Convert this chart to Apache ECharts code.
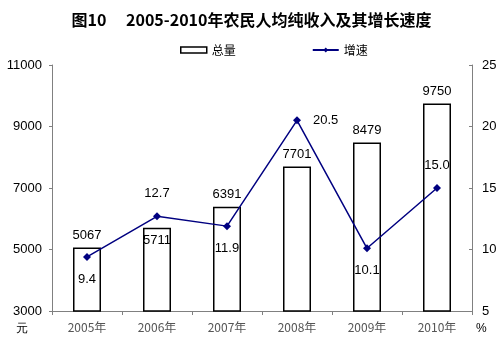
<!DOCTYPE html>
<html>
<head>
<meta charset="utf-8">
<script src="https://cdn.jsdelivr.net/npm/echarts@6/dist/echarts.min.js"></script>
<style>
  html, body { margin: 0; padding: 0; background: #fff; }
  #chart { width: 503px; height: 347px; }
</style>
</head>
<body>
<div id="chart"></div>
<script>
// 2005-2010 年农民人均纯收入（元）及增长速度（%）
const years = ['2005年', '2006年', '2007年', '2008年', '2009年', '2010年'];
const income = [5067, 5711, 6391, 7701, 8479, 9750];
const growth = [9.4, 12.7, 11.9, 20.5, 10.1, 15.0];
const incomeLabelPos = ['top', 'insideTop', 'top', 'top', 'top', 'top'];
const growthLabelPos = ['bottom', 'top', 'bottom', 'right', 'bottom', 'top'];

const labelFont = { color: '#000', fontSize: 13, fontFamily: 'Liberation Sans, Arial, sans-serif' };

const chart = echarts.init(document.getElementById('chart'), null, { renderer: 'canvas' });

chart.setOption({
  animation: false,
  backgroundColor: '#fff',
  title: {
    text: '图10　 2005-2010年农民人均纯收入及其增长速度',
    left: 'center',
    top: 7,
    textStyle: {
      fontFamily: 'Noto Sans CJK SC, sans-serif',
      fontSize: 16,
      fontWeight: 'bold',
      color: '#000'
    }
  },
  legend: {
    top: 39,
    left: 175,
    itemGap: 76,
    itemWidth: 26,
    itemHeight: 6,
    textStyle: { fontSize: 12, color: '#000', fontFamily: 'Noto Sans CJK SC, sans-serif' },
    data: [
      { name: '总量', icon: 'rect', itemStyle: { color: '#fff', borderColor: '#000', borderWidth: 1.5 } },
      { name: '增速' }
    ]
  },
  grid: { left: 52, right: 31, top: 65, bottom: 36 },
  xAxis: {
    type: 'category',
    data: years,
    axisLine: { lineStyle: { color: '#808080', width: 1 } },
    axisTick: { show: true, length: 4, lineStyle: { color: '#808080' } },
    axisLabel: { color: '#555', fontSize: 12, margin: 10, fontFamily: 'Noto Sans CJK SC, sans-serif' }
  },
  yAxis: [
    {
      type: 'value',
      min: 3000,
      max: 11000,
      interval: 2000,
      name: '元',
      nameLocation: 'start',
      nameGap: 12,
      nameTextStyle: { color: '#000', fontSize: 12, align: 'right', padding: [0, 24, 0, 0], verticalAlign: 'top' },
      axisLine: { show: true, lineStyle: { color: '#808080' } },
      axisTick: { show: true, length: 3, lineStyle: { color: '#808080' } },
      axisLabel: {
        color: '#000', fontSize: 13, margin: 10,
        fontFamily: 'Liberation Sans, Arial, sans-serif',
        formatter: v => String(v)
      },
      splitLine: { show: false }
    },
    {
      type: 'value',
      min: 5,
      max: 25,
      interval: 5,
      name: '%',
      nameLocation: 'start',
      nameGap: 12,
      nameTextStyle: { color: '#000', fontSize: 12, align: 'left', padding: [0, 0, 0, 4], verticalAlign: 'top' },
      axisLine: { show: true, lineStyle: { color: '#808080' } },
      axisTick: { show: true, inside: true, length: 3, lineStyle: { color: '#808080' } },
      axisLabel: { color: '#000', fontSize: 13, margin: 10, fontFamily: 'Liberation Sans, Arial, sans-serif' },
      splitLine: { show: false }
    }
  ],
  series: [
    {
      name: '总量',
      type: 'bar',
      yAxisIndex: 0,
      barWidth: '40%',
      itemStyle: { color: '#fff', borderColor: '#000', borderWidth: 1.5 },
      data: income.map((v, i) => ({
        value: v,
        label: { position: incomeLabelPos[i] }
      })),
      label: { show: true, distance: 6, ...labelFont },
      z: 1
    },
    {
      name: '增速',
      type: 'line',
      yAxisIndex: 1,
      symbol: 'diamond',
      symbolSize: 8,
      lineStyle: { color: '#000080', width: 1.5 },
      itemStyle: { color: '#000080' },
      data: growth.map((v, i) => ({
        value: v,
        label: { position: growthLabelPos[i] }
      })),
      label: {
        show: true,
        distance: 12,
        formatter: p => p.value.toFixed(1),
        ...labelFont
      },
      z: 3
    }
  ]
});
</script>
</body>
</html>
